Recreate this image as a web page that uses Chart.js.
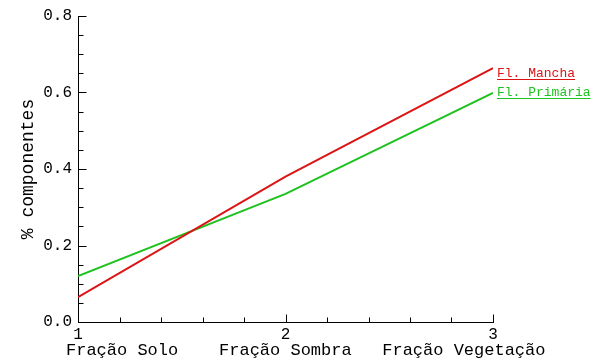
<!DOCTYPE html>
<html>
<head>
<meta charset="utf-8">
<script src="https://cdn.jsdelivr.net/npm/chart.js@4/dist/chart.umd.min.js"></script>
<style>
  html, body { margin: 0; padding: 0; background: #fff; }
  #c { display: block; }
</style>
</head>
<body>
<canvas id="c" width="592" height="358"></canvas>
<script>
// Component fractions per class, at positions 1..3 on the x axis
const categories = ['Fração Solo', 'Fração Sombra', 'Fração Vegetação'];
const positions = [1, 2, 3];
const seriesNames = ['Fl. Mancha', 'Fl. Primária'];
const manchaValues = [0.065, 0.38, 0.664];
const primariaValues = [0.12, 0.335, 0.599];
const seriesColors = ['#dc1414', '#1ec21e'];
const yTickValues = [0, 0.2, 0.4, 0.6, 0.8];
const xTickValues = [1, 2, 3];

const MONO = '"Liberation Mono", "DejaVu Sans Mono", monospace';

function toPoints(values) {
  return positions.map((p, i) => ({ x: p, y: values[i] }));
}

// Inward major and minor tick marks on the left and bottom axes
const inwardTicks = {
  id: 'inwardTicks',
  afterDraw(chart) {
    const { ctx, scales: { x, y } } = chart;
    ctx.save();
    ctx.strokeStyle = '#000';
    ctx.lineWidth = 1;
    ctx.beginPath();
    const left = Math.round(x.left) + 0.5;
    const yStep = 0.05;
    const yCount = Math.round((y.max - y.min) / yStep);
    for (let i = 0; i <= yCount; i++) {
      const py = Math.round(y.getPixelForValue(y.min + i * yStep)) + 0.5;
      const len = i % 4 === 0 ? 8 : 5;
      ctx.moveTo(left, py);
      ctx.lineTo(left + len, py);
    }
    const bottom = Math.round(y.bottom) + 0.5;
    const xStep = 0.2;
    const xCount = Math.round((x.max - x.min) / xStep);
    for (let i = 0; i <= xCount; i++) {
      const px = Math.round(x.getPixelForValue(x.min + i * xStep)) + 0.5;
      const len = i % 5 === 0 ? 8 : 5;
      ctx.moveTo(px, bottom);
      ctx.lineTo(px, bottom - len);
    }
    ctx.stroke();
    ctx.restore();
  }
};

// Category names written along the bottom, under the numeric ticks
const categoryLine = {
  id: 'categoryLine',
  afterDraw(chart) {
    const { ctx, scales: { x } } = chart;
    ctx.save();
    ctx.font = '17px ' + MONO;
    ctx.fillStyle = '#000';
    ctx.textAlign = 'left';
    ctx.textBaseline = 'alphabetic';
    const text = categories[0] + '    ' + categories[1] + '   ' + categories[2];
    ctx.fillText(text, x.left - 12, 355);
    ctx.restore();
  }
};

// Underlined series names at the right-hand end of each line
const endLabels = {
  id: 'endLabels',
  afterDraw(chart) {
    const { ctx } = chart;
    const ends = chart.data.datasets.map((ds, i) => {
      const pts = chart.getDatasetMeta(i).data;
      return pts[pts.length - 1];
    });
    const mid = ends.reduce((s, p) => s + p.y, 0) / ends.length;
    const gap = 19;
    const first = mid + 6 - gap * (ends.length - 1) / 2;
    ctx.save();
    ctx.font = '13px ' + MONO;
    ctx.textAlign = 'left';
    ctx.textBaseline = 'alphabetic';
    chart.data.datasets.forEach((ds, i) => {
      const px = ends[i].x + 4;
      const base = Math.round(first + i * gap);
      ctx.fillStyle = ds.borderColor;
      ctx.fillText(ds.label, px, base);
      const w = ctx.measureText(ds.label).width;
      ctx.strokeStyle = ds.borderColor;
      ctx.lineWidth = 1;
      ctx.beginPath();
      ctx.moveTo(px, base + 2.5);
      ctx.lineTo(px + w, base + 2.5);
      ctx.stroke();
    });
    ctx.restore();
  }
};

new Chart(document.getElementById('c'), {
  type: 'line',
  data: {
    datasets: [
      {
        label: seriesNames[0],
        data: toPoints(manchaValues),
        borderColor: seriesColors[0],
        backgroundColor: seriesColors[0],
        borderWidth: 2,
        pointRadius: 0,
        tension: 0,
        fill: false
      },
      {
        label: seriesNames[1],
        data: toPoints(primariaValues),
        borderColor: seriesColors[1],
        backgroundColor: seriesColors[1],
        borderWidth: 2,
        pointRadius: 0,
        tension: 0,
        fill: false
      }
    ]
  },
  options: {
    responsive: false,
    animation: false,
    devicePixelRatio: 1,
    layout: { padding: { top: 16, right: 99, left: 0, bottom: 0 } },
    plugins: {
      legend: { display: false },
      tooltip: { enabled: false }
    },
    scales: {
      x: {
        type: 'linear',
        min: 1,
        max: 3,
        afterFit(scale) { scale.height = 36; },
        afterBuildTicks(scale) { scale.ticks = xTickValues.map(v => ({ value: v })); },
        grid: { display: false, drawTicks: false },
        border: { display: true, color: '#000', width: 1 },
        ticks: {
          padding: 3,
          maxRotation: 0,
          color: '#000',
          font: { family: MONO, size: 16 },
          callback: v => String(v)
        }
      },
      y: {
        min: 0,
        max: 0.8,
        afterFit(scale) { scale.width = 78; },
        afterBuildTicks(scale) { scale.ticks = yTickValues.map(v => ({ value: v })); },
        grid: { display: false, drawTicks: false },
        border: { display: true, color: '#000', width: 1 },
        title: {
          display: true,
          text: '% componentes',
          color: '#000',
          font: { family: MONO, size: 18 },
          padding: { top: 17, bottom: 0 }
        },
        ticks: {
          padding: 6,
          color: '#000',
          font: { family: MONO, size: 16 },
          callback: v => Number(v).toFixed(1)
        }
      }
    }
  },
  plugins: [inwardTicks, categoryLine, endLabels]
});
</script>
</body>
</html>
